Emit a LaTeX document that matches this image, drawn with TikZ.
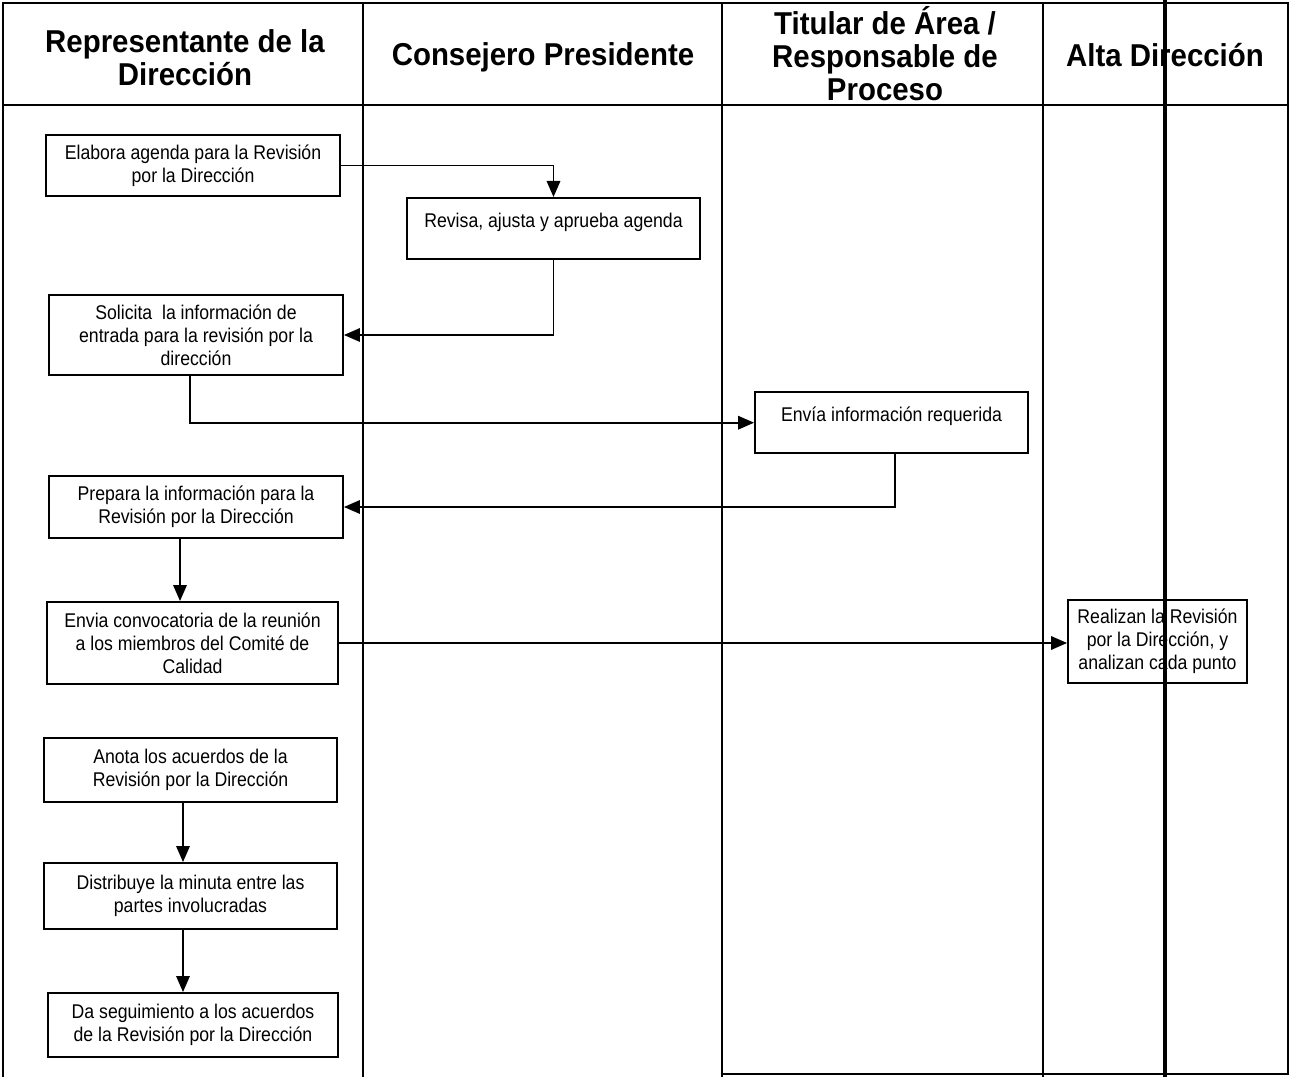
\documentclass[tikz,border=0pt]{standalone}
\usepackage{fontspec}
\setmainfont{Liberation Sans}
\newfontfamily\boxfont{Liberation Sans}[FakeStretch=0.89]
\newfontfamily\headfont{Liberation Sans}[FakeStretch=0.93]
\usetikzlibrary{arrows.meta}

\tikzset{
  lane/.style={line width=0.8pt},
  actbox/.style={draw, line width=1.1pt, fill=white, align=center, inner sep=2pt,
    font=\boxfont\fontsize{11.3}{13.2}\selectfont},
  topbox/.style={actbox, anchor=north, text height=15pt, text depth=16pt},
  flow/.style={line width=1pt, -{Triangle[length=0.32cm,width=0.27cm]}},
  lanehead/.style={align=center, font=\headfont\fontsize{18}{18.8}\selectfont\bfseries}
}

\begin{document}
\begin{tikzpicture}[x=0.02cm, y=-0.02cm]
          \useasboundingbox (0,0) rectangle (1291,1077);

          % swimlanes
          \draw[lane] (3,1077) -- (3,3) -- (1288,3) -- (1288,1074) -- (722,1074);
          \draw[lane] (3,105) -- (1288,105);
          \foreach \xl in {363,722,1043}{
            \draw[lane] (\xl,3) -- (\xl,1077);
          }

          \node[lanehead] (hrep) at (185,58) {Representante de la\\Dirección};
          \node[lanehead] (hcon) at (543,57) {Consejero Presidente};
          \node[lanehead] (htit) at (885,54) {Titular de Área /\\Responsable de\\Proceso};
          \node[lanehead] (halt) at (1165,55) {Alta Dirección};

          % activities
          \node[actbox, minimum width=5.88cm, minimum height=1.22cm] (elab) at (193,165.5)
            {Elabora agenda para la Revisión\\por la Dirección};
          \node[topbox, minimum width=5.86cm] (rev) at (553.5,197)
            {Revisa, ajusta y aprueba agenda};
          \node[actbox, minimum width=5.88cm, minimum height=1.6cm] (sol) at (196,335)
            {Solicita\ \ la información de\\entrada para la revisión por la\\dirección};
          \node[topbox, minimum width=5.46cm] (env) at (891.5,391)
            {Envía información requerida};
          \node[actbox, minimum width=5.88cm, minimum height=1.24cm] (prep) at (196,507)
            {Prepara la información para la\\Revisión por la Dirección};
          \node[actbox, minimum width=5.82cm, minimum height=1.64cm] (conv) at (192.5,643)
            {Envia convocatoria de la reunión\\a los miembros del Comité de\\Calidad};
          \node[actbox, minimum width=3.58cm, minimum height=1.66cm] (real) at (1157.5,641.5)
            {Realizan la Revisión\\por la Dirección, y\\analizan cada punto};
          \node[actbox, minimum width=5.86cm, minimum height=1.28cm] (anot) at (190.5,770)
            {Anota los acuerdos de la\\Revisión por la Dirección};
          \node[actbox, minimum width=5.86cm, minimum height=1.32cm] (dist) at (190.5,896)
            {Distribuye la minuta entre las\\partes involucradas};
          \node[actbox, minimum width=5.80cm, minimum height=1.28cm] (segu) at (193,1025)
            {Da seguimiento a los acuerdos\\de la Revisión por la Dirección};

          % connectors
          \draw[flow] (elab.east) -| (rev.north);
          \draw[flow] (rev.south) |- (sol.east);
          \draw[flow] ([xshift=-0.12cm]sol.south) |- (env.west);
          \draw[flow] ([xshift=0.07cm]env.south) |- (prep.east);
          \draw[flow] ([xshift=-0.32cm]prep.south) -- ([xshift=-0.32cm]prep.south |- conv.north);
          \draw[flow] (conv.east) -- (conv.east -| real.west);
          \draw[flow] ([xshift=-0.15cm]anot.south) -- ([xshift=-0.15cm]anot.south |- dist.north);
          \draw[flow] ([xshift=-0.15cm]dist.south) -- ([xshift=-0.15cm]dist.south |- segu.north);

          % heavy rule across the last lane
          \draw[line width=2.6pt] (1165,0) -- (1165,1077);
\end{tikzpicture}
\end{document}
